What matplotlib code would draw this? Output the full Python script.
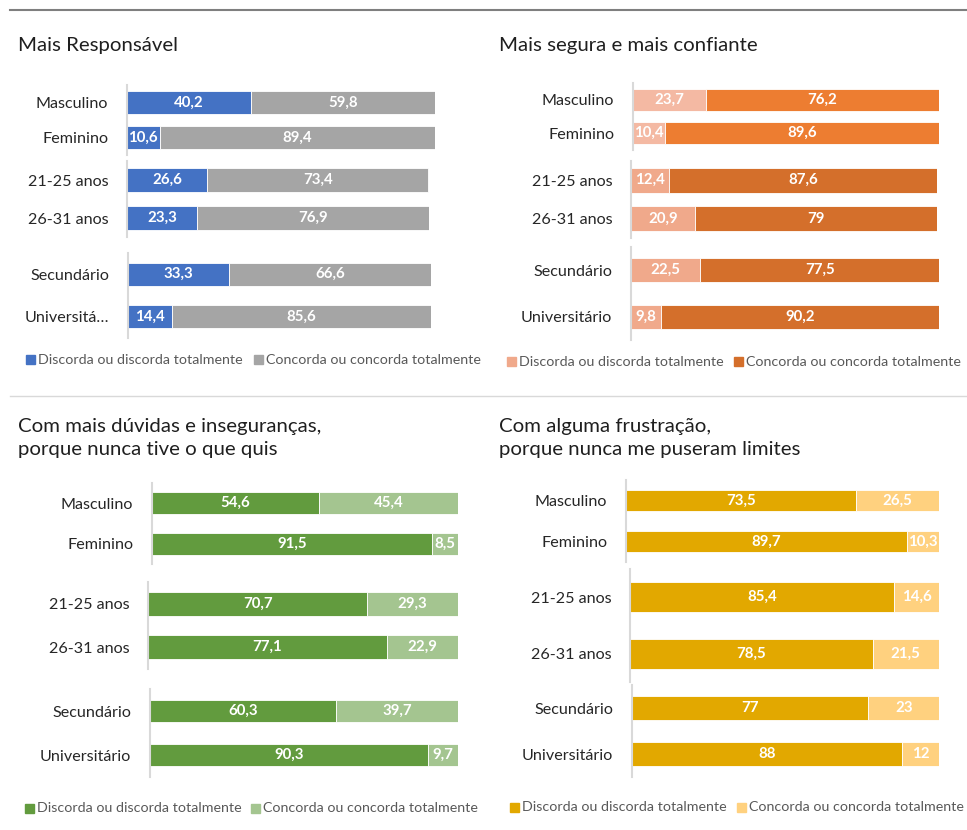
import matplotlib.pyplot as plt
from matplotlib.patches import Rectangle
from matplotlib.lines import Line2D

W, H = 967, 830
plt.rcParams['font.family'] = ['Lato', 'DejaVu Sans']

# dados
titulos = ['Mais Responsável',
           'Mais segura e mais confiante',
           'Com mais dúvidas e inseguranças,\nporque nunca tive o que quis',
           'Com alguma frustração,\nporque nunca me puseram limites']
categorias = ['Masculino', 'Feminino', '21-25 anos', '26-31 anos', 'Secundário', 'Universitário']
categorias_resp = ['Masculino', 'Feminino', '21-25 anos', '26-31 anos', 'Secundário', 'Universitá…']
legenda = ['Discorda ou discorda totalmente', 'Concorda ou concorda totalmente']

discorda_resp = [40.2, 10.6, 26.6, 23.3, 33.3, 14.4]
concorda_resp = [59.8, 89.4, 73.4, 76.9, 66.6, 85.6]
discorda_seg = [23.7, 10.4, 12.4, 20.9, 22.5, 9.8]
concorda_seg = [76.2, 89.6, 87.6, 79, 77.5, 90.2]
discorda_duv = [54.6, 91.5, 70.7, 77.1, 60.3, 90.3]
concorda_duv = [45.4, 8.5, 29.3, 22.9, 39.7, 9.7]
discorda_fru = [73.5, 89.7, 85.4, 78.5, 77, 88]
concorda_fru = [26.5, 10.3, 14.6, 21.5, 23, 12]

paineis = [
    (titulos[0], categorias_resp, discorda_resp, concorda_resp),
    (titulos[1], categorias, discorda_seg, concorda_seg),
    (titulos[2], categorias, discorda_duv, concorda_duv),
    (titulos[3], categorias, discorda_fru, concorda_fru),
]

# cores (discorda, concorda) por grupo de cada painel
cores = [
    [('#4472C4', '#A5A5A5')] * 3,
    [('#F4B9A3', '#ED7D31'), ('#F0A98B', '#D46F2B'), ('#F0A98B', '#D46F2B')],
    [('#629B3E', '#A4C590')] * 3,
    [('#E2A800', '#FFD17F')] * 3,
]

# layout em pixeis: titulo (x, y), grupos (x0, y0, x1, y1, altura barra), legenda (y, x1, x2)
tit_pos = [(18, 46), (499, 46), (18, 438), (499, 438)]
caixas = [
    [(127, 85, 435, 155, 0.66), (127, 161, 429, 237, 0.63), (128, 253, 431, 338, 0.55)],
    [(633, 83, 939, 150, 0.66), (631, 161, 937, 238, 0.64), (631, 247, 939, 340, 0.52)],
    [(152, 483, 458, 564, 0.54), (148, 582, 458, 669, 0.55), (150, 689, 458, 777, 0.52)],
    [(626, 480, 939, 562, 0.52), (630, 569, 939, 682, 0.53), (632, 685, 939, 777, 0.54)],
]
leg_pos = [(360, 26, 254), (362, 507, 734), (808, 25, 251), (807, 510, 737)]

fig = plt.figure(figsize=(W / 100, H / 100), dpi=100)

# linhas separadoras
fig.add_artist(Line2D([10 / W, 1], [1 - 10 / H] * 2, color='#7F7F7F', lw=1.5))
fig.add_artist(Line2D([10 / W, 1], [1 - 396 / H] * 2, color='#D9D9D9', lw=1))

for p, (titulo, cats, disc, conc) in enumerate(paineis):
    tx, ty = tit_pos[p]
    fig.text(tx / W, 1 - ty / H, titulo, fontsize=14.7, color='#1F1F1F',
             ha='left', va='center', linespacing=1.42)
    for g in range(3):
        x0, y0, x1, y1, h = caixas[p][g]
        ax = fig.add_axes([x0 / W, 1 - y1 / H, (x1 - x0) / W, (y1 - y0) / H])
        idx = [2 * g, 2 * g + 1]
        d = [disc[i] for i in idx]
        c = [conc[i] for i in idx]
        cd, cc = cores[p][g]
        pos = [0, 1]
        ax.barh(pos, d, height=h, color=cd, edgecolor='white', lw=0.6)
        ax.barh(pos, c, left=d, height=h, color=cc, edgecolor='white', lw=0.6)
        for y, a, b in zip(pos, d, c):
            ax.text(a / 2, y, f'{a:g}'.replace('.', ','), ha='center', va='center',
                    color='white', fontsize=10.8, fontweight='bold')
            ax.text(a + b / 2, y, f'{b:g}'.replace('.', ','), ha='center', va='center',
                    color='white', fontsize=10.8, fontweight='bold')
        ax.set_xlim(0, max(a + b for a, b in zip(d, c)))
        ax.set_ylim(1.5, -0.5)
        ax.set_yticks(pos)
        ax.set_yticklabels([cats[i] for i in idx], fontsize=11.6, color='#262626')
        ax.tick_params(axis='y', length=0, pad=13.5)
        ax.set_xticks([])
        for s in ['top', 'right', 'bottom']:
            ax.spines[s].set_visible(False)
        ax.spines['left'].set_color('#D9D9D9')
        ax.spines['left'].set_linewidth(1.5)
        ax.patch.set_alpha(0)

    ly, lx1, lx2 = leg_pos[p]
    for lx, cor, txt in [(lx1, cores[p][-1][0], legenda[0]), (lx2, cores[p][-1][1], legenda[1])]:
        fig.add_artist(Rectangle((lx / W, 1 - (ly + 4.5) / H), 9 / W, 9 / H,
                                 color=cor, transform=fig.transFigure))
        fig.text((lx + 12) / W, 1 - ly / H, txt, fontsize=10.3, color='#595959',
                 ha='left', va='center')

fig.savefig('out.png', dpi=100)
